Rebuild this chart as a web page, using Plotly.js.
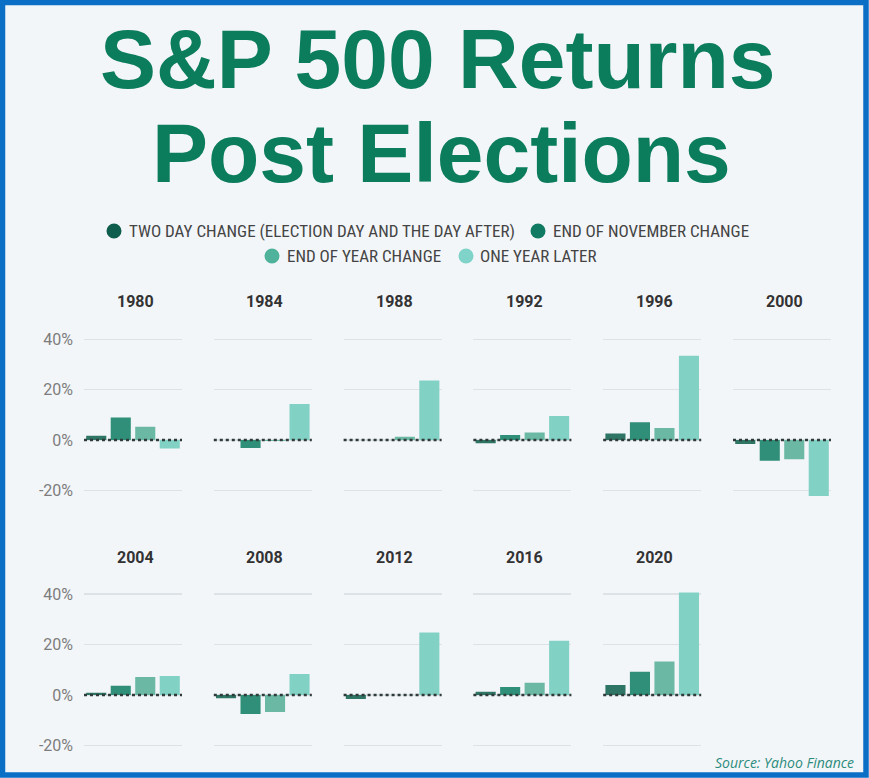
<!DOCTYPE html>
<html>
<head>
<meta charset="utf-8">
<script src="https://cdn.plot.ly/plotly-3.0.1.min.js"></script>
<style>html,body{margin:0;padding:0;background:#f3f6f9;}#chart{width:869px;height:778px;}</style>
</head>
<body>
<div id="chart"></div>
<script>
// ---- data ----
const years = ['1980','1984','1988','1992','1996','2000','2004','2008','2012','2016','2020'];
const seriesNames = ['TWO DAY CHANGE (ELECTION DAY AND THE DAY AFTER)','END OF NOVEMBER CHANGE','END OF YEAR CHANGE','ONE YEAR LATER'];
const twoDay  = [1.7, 0, 0, -1.3, 2.6, -1.6, 0.9, -1.3, -1.6, 1.3, 4.0];
const endNov  = [8.9, -3.2, 0, 2.0, 7.0, -8.3, 3.7, -7.5, 0, 3.2, 9.2];
const endYear = [5.3, -0.4, 1.3, 3.0, 4.8, -7.7, 7.1, -6.7, 0, 4.9, 13.3];
const oneYear = [-3.4, 14.3, 23.6, 9.5, 33.5, -22.3, 7.5, 8.3, 24.8, 21.5, 40.7];
const tickVals = [-20, 0, 20, 40];
const tickText = ['-20%', '0%', '20%', '40%'];

// ---- style ----
const barColors = ['#2f7565', '#2f8f78', '#6bb9a5', '#82d1c5'];
const dotColors = ['#0f5d4c', '#117a62', '#4fb39b', '#7fd3c8'];
const W = 869, H = 778;
const fx = x => x / W;
const fy = y => 1 - y / H;

const data = [];
const layout = {
  width: W, height: H,
  margin: {l: 0, r: 0, t: 0, b: 0},
  paper_bgcolor: '#f3f6f9',
  plot_bgcolor: 'rgba(0,0,0,0)',
  showlegend: false,
  bargap: 0.18,
  font: {family: 'Roboto, sans-serif', color: '#333'},
  annotations: [],
  shapes: []
};

const colLeft0 = 84, colPitch = 129.8, colW = 98;
const rows = [{zero: 440, top: 326.7, bot: 502.9, title: 302}, {zero: 695, top: 581.6, bot: 758, title: 557}];

years.forEach((yr, i) => {
  const n = i + 1;
  const row = i < 6 ? 0 : 1;
  const col = i < 6 ? i : i - 6;
  const left = colLeft0 + col * colPitch;
  const xa = 'xaxis' + (n === 1 ? '' : n), ya = 'yaxis' + (n === 1 ? '' : n);
  const xr = 'x' + (n === 1 ? '' : n), yr2 = 'y' + (n === 1 ? '' : n);
  const R = rows[row];
  data.push({
    type: 'bar',
    x: seriesNames,
    y: [twoDay[i], endNov[i], endYear[i], oneYear[i]],
    marker: {color: barColors, line: {width: 0}},
    xaxis: xr, yaxis: yr2,
    hoverinfo: 'none'
  });
  layout[xa] = {
    domain: [fx(left), fx(left + colW)],
    anchor: yr2,
    range: [-0.5, 3.5],
    showticklabels: false, showgrid: false, zeroline: false, ticks: '', showline: false,
    fixedrange: true
  };
  layout[ya] = {
    domain: [fy(R.bot), fy(R.top)],
    anchor: xr,
    range: [-25, 45],
    tickvals: tickVals, ticktext: tickText,
    showticklabels: col === 0,
    ticks: '',
    ticklabelstandoff: 10,
    tickfont: {family: 'Roboto, sans-serif', size: 16, color: '#7d7d7d'},
    showgrid: true, gridcolor: '#dde2e7', gridwidth: 1.5,
    zeroline: false, showline: false, fixedrange: true
  };
  layout.shapes.push({
    type: 'line', xref: xr + ' domain', yref: yr2,
    x0: 0, x1: 1, y0: 0, y1: 0,
    line: {color: '#2e3b38', width: 2.5, dash: 'dot'}
  });
  layout.annotations.push({
    xref: 'paper', yref: 'paper',
    x: fx(left + colW / 2 + 2), y: fy(R.title),
    xanchor: 'center', yanchor: 'middle', showarrow: false,
    text: '<b>' + yr + '</b>',
    font: {family: 'Roboto, sans-serif', size: 16, color: '#333333'}
  });
});

// Title
const titleLines = ['S&P 500 Returns', 'Post Elections'];
const titleY = [59, 153];
const titleX = [437, 441];
titleLines.forEach((t, k) => {
  layout.annotations.push({
    xref: 'paper', yref: 'paper', x: fx(titleX[k]), y: fy(titleY[k]),
    xanchor: 'center', yanchor: 'middle', showarrow: false,
    text: '<b>' + t.replace('&', '&amp;') + '</b>',
    font: {family: '"Liberation Sans", Arial, sans-serif', size: 84, color: '#0b7c5c'}
  });
});

// Legend
const legendItems = [
  {dot: 114, text: 127, y: 231},
  {dot: 538, text: 551, y: 231},
  {dot: 272, text: 285, y: 256},
  {dot: 466, text: 478, y: 256}
];
legendItems.forEach((it, k) => {
  layout.shapes.push({
    type: 'circle', xref: 'paper', yref: 'paper',
    x0: fx(it.dot - 7.5), x1: fx(it.dot + 7.5), y0: fy(it.y + 7.5), y1: fy(it.y - 7.5),
    fillcolor: dotColors[k], line: {width: 0}
  });
  layout.annotations.push({
    xref: 'paper', yref: 'paper', x: fx(it.text), y: fy(it.y),
    xanchor: 'left', yanchor: 'middle', showarrow: false,
    text: seriesNames[k],
    font: {family: '"Liberation Sans Narrow", "Roboto Condensed", Roboto, sans-serif', size: 17, color: '#444444'}
  });
});

// Source
layout.annotations.push({
  xref: 'paper', yref: 'paper', x: fx(856), y: fy(762),
  xanchor: 'right', yanchor: 'middle', showarrow: false,
  text: '<i>Source: Yahoo Finance</i>',
  font: {family: '"Open Sans", sans-serif', size: 14, color: '#2a8c7d'}
});

// Border
layout.shapes.push({
  type: 'rect', xref: 'paper', yref: 'paper',
  x0: fx(2.5), x1: fx(W - 3), y0: fy(H - 3), y1: fy(2.5),
  line: {color: '#0b6fc6', width: 5.5}, fillcolor: 'rgba(0,0,0,0)'
});

Plotly.newPlot('chart', data, layout, {displayModeBar: false, staticPlot: true});
</script>
</body>
</html>
